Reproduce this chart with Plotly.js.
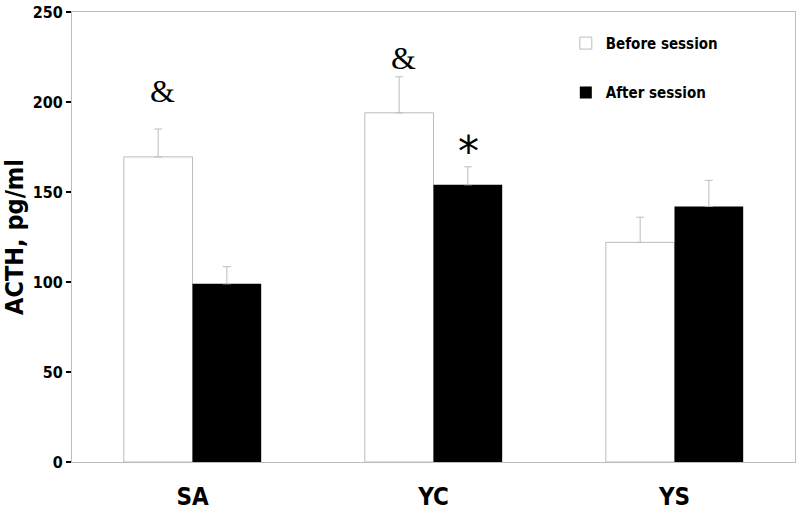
<!DOCTYPE html>
<html>
<head>
<meta charset="utf-8">
<script src="https://cdn.plot.ly/plotly-3.0.1.min.js"></script>
<style>
  html, body { margin: 0; padding: 0; background: #fff; }
  #chart { width: 800px; height: 515px; }
</style>
</head>
<body>
<div id="chart"></div>
<script>
  // groups and ACTH means / SEM
  const groups = ['SA', 'YC', 'YS'];
  const before = [169.5, 194, 122];
  const beforeErr = [15.5, 20, 14];
  const after = [99, 154, 142];
  const afterErr = [9.5, 10, 14.5];

  // significance marks placed above bars
  const markGroups = ['SA', 'YC', 'YC'];
  const markValues = [206, 224.5, 172.5];
  const markText = ['&', '&', '*'];

  const GRAY = '#bdbdbd';
  const FONT = 'DejaVu Sans, Liberation Sans, sans-serif';
  const COND = 'DejaVu Sans Condensed, DejaVu Sans, sans-serif';

  const traces = [
    {
      type: 'bar',
      name: 'Before session',
      legendgroup: 'b',
      x: groups,
      y: before,
      marker: { color: '#ffffff', line: { color: GRAY, width: 1 } },
      error_y: { type: 'data', array: beforeErr, symmetric: false, arrayminus: [0, 0, 0], color: GRAY, thickness: 1, width: 4 },
    },
    {
      type: 'bar',
      name: 'After session',
      legendgroup: 'a',
      x: groups,
      y: after,
      marker: { color: '#000000', line: { color: '#000000', width: 0 } },
      error_y: { type: 'data', array: afterErr, symmetric: false, arrayminus: [0, 0, 0], color: GRAY, thickness: 1, width: 4 },
    },
  ];

  const annotations = markText.map((t, i) => ({
    x: markGroups[i],
    xshift: t === '*' ? 35 : -30,
    y: markValues[i],
    text: t,
    showarrow: false,
    font: t === '*'
      ? { family: FONT, size: 42, color: '#000' }
      : { family: 'Liberation Serif, Times New Roman, serif', size: 32, color: '#000' },
  }));

  const layout = {
    width: 800,
    height: 515,
    paper_bgcolor: '#fff',
    plot_bgcolor: '#fff',
    margin: { t: 12, r: 5, b: 53, l: 72 },
    font: { family: COND, color: '#000' },
    barmode: 'group',
    bargap: 0.43,
    bargroupgap: 0,
    showlegend: true,
    legend: {
      x: 0.683, y: 0.967, xanchor: 'left', yanchor: 'top',
      font: { family: COND, size: 15, color: '#000', weight: 'bold' },
      traceorder: 'grouped',
      tracegroupgap: 27,
      bgcolor: 'rgba(0,0,0,0)',
    },
    xaxis: {
      showline: true, linecolor: GRAY, linewidth: 1, mirror: true,
      showgrid: false, zeroline: false, ticks: '',
      ticklabelstandoff: 13,
      tickfont: { family: COND, size: 24, weight: 'bold', color: '#000' },
    },
    yaxis: {
      range: [0, 250], dtick: 50,
      showline: true, linecolor: GRAY, linewidth: 1, mirror: true,
      showgrid: false, zeroline: false,
      ticks: 'outside', ticklen: 5, tickwidth: 2, tickcolor: '#000',
      tickfont: { family: COND, size: 16, weight: 'bold', color: '#000' },
      title: { text: 'ACTH, pg/ml', font: { family: COND, size: 25, weight: 'bold', color: '#000' }, standoff: 2 },
    },
    annotations,
  };

  Plotly.newPlot('chart', traces, layout, { displayModeBar: false, staticPlot: true });
</script>
</body>
</html>
